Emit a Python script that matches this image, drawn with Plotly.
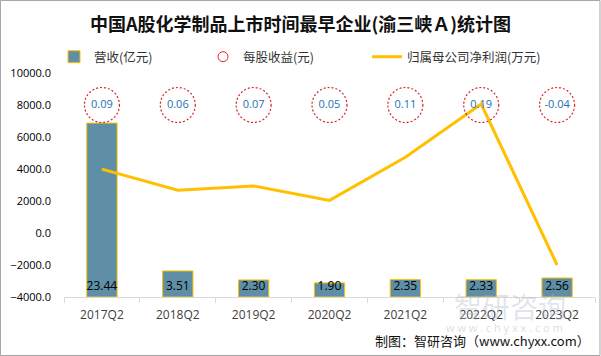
import plotly.graph_objects as go

categories = ["2017Q2", "2018Q2", "2019Q2", "2020Q2", "2021Q2", "2022Q2", "2023Q2"]
revenue = [23.44, 3.51, 2.30, 1.90, 2.35, 2.33, 2.56]          # 营收(亿元)
eps = [0.09, 0.06, 0.07, 0.05, 0.11, 0.19, -0.04]              # 每股收益(元)
net_profit = [3990, 2670, 2940, 2040, 4730, 8060, -2000]       # 归属母公司净利润(万元)
profit_ticks = [-4000, -2000, 0, 2000, 4000, 6000, 8000, 10000]
eps_label_row = 8000

title = "中国A股化学制品上市时间最早企业(渝三峡Ａ)统计图"
FONT = "Open Sans, Noto Sans CJK SC, sans-serif"
CJK = "Noto Sans CJK SC, sans-serif"

fig = go.Figure()

fig.add_trace(go.Bar(
    x=categories, y=revenue, name="营收(亿元)", yaxis="y", legend="legend",
    marker=dict(color="#5E8FA6", line=dict(color="#FFC000", width=1)),
    width=0.4,
    text=[f"{v:.2f}" for v in revenue], textposition="inside",
    insidetextanchor="start", textangle=0, constraintext="none",
    textfont=dict(color="#000000", size=12, family=FONT),
))

fig.add_trace(go.Scatter(
    x=categories, y=net_profit, name="归属母公司净利润(万元)", yaxis="y2",
    legend="legend3", mode="lines",
    line=dict(color="#FFC000", width=3),
))

fig.add_trace(go.Scatter(
    x=categories, y=[eps_label_row] * len(categories), name="每股收益(元)",
    yaxis="y2", legend="legend2", mode="markers+text",
    text=[f"{v:.2f}" for v in eps], textposition="middle center",
    textfont=dict(color="#1F6FB2", size=11, family=FONT),
    marker=dict(symbol="circle-open", size=10, color="#D9262B", line=dict(width=1)),
    selectedpoints=[],
    unselected=dict(marker=dict(opacity=0), textfont=dict(color="#1F6FB2")),
))

shapes = []
for c in categories:
    shapes.append(dict(
        type="circle", xref="x", yref="y2", xsizemode="pixel", ysizemode="pixel",
        xanchor=c, yanchor=eps_label_row, x0=-17.5, x1=17.5, y0=-17.5, y1=17.5,
        line=dict(color="#D9262B", width=1.2, dash="2px,2px"), layer="above",
    ))
# outer frame
shapes.append(dict(type="rect", xref="paper", yref="paper",
                   x0=-0.1196, x1=1.0094, y0=-0.2612, y1=1.3237,
                   line=dict(color="#A6A6A6", width=1)))
fig.update_layout(shapes=shapes)

fig.update_layout(
    width=601, height=356, autosize=False,
    margin=dict(l=64, r=6, t=73, b=59),
    paper_bgcolor="white", plot_bgcolor="white",
    font=dict(family=FONT, color="#333333", size=12),
    title=dict(text=title, x=0.5, xref="container", xanchor="center",
               y=0.93, yref="container", yanchor="middle",
               font=dict(family=CJK, size=18, color="#111111", weight="bold")),
    xaxis=dict(type="category", categoryorder="array", categoryarray=categories,
               range=[-0.5, 6.5], showline=True, linecolor="#D9D9D9", linewidth=1,
               ticks="outside", tickson="boundaries", ticklen=5, tickcolor="#D9D9D9",
               showgrid=False, zeroline=False, ticklabelstandoff=7,
               tickfont=dict(size=12, color="#404040", family=FONT)),
    yaxis=dict(range=[0, 30.19], visible=False, showgrid=False, zeroline=False),
    yaxis2=dict(overlaying="y", side="left", anchor="x", range=[-4000, 10000],
                tickvals=profit_ticks, tickformat=".1f", showgrid=False,
                zeroline=False, showline=False, ticks="",
                ticklabelstandoff=12,
                tickfont=dict(size=11, color="#000000", family=FONT)),
    legend=dict(orientation="h", x=-0.0188, xanchor="left", y=1.071, yanchor="middle",
                font=dict(size=12.5, family=CJK, color="#333333"), bgcolor="rgba(0,0,0,0)"),
    legend2=dict(orientation="h", x=0.2618, xanchor="left", y=1.071, yanchor="middle",
                 font=dict(size=12.5, family=CJK, color="#333333"), bgcolor="rgba(0,0,0,0)"),
    legend3=dict(orientation="h", x=0.5706, xanchor="left", y=1.071, yanchor="middle",
                 font=dict(size=12.5, family=CJK, color="#333333"), bgcolor="rgba(0,0,0,0)"),
    showlegend=True,
)

# watermark
fig.add_annotation(text="智研咨询", xref="paper", yref="paper", x=0.84, y=-0.04,
                   xanchor="center", yanchor="middle",
                   showarrow=False, font=dict(size=28, family=CJK, color="rgba(170,180,195,0.35)"))
fig.add_annotation(text="w w w . c h y x x . c o m", xref="paper", yref="paper", x=0.83, y=-0.138,
                   xanchor="center", yanchor="middle",
                   showarrow=False, font=dict(size=11, family=FONT, color="rgba(170,180,195,0.45)"))
# source
fig.add_annotation(text="制图：智研咨询（www.chyxx.com）", xref="paper", yref="paper",
                   x=0.995, xanchor="right", y=-0.196, yanchor="middle", showarrow=False,
                   font=dict(size=13, family=CJK, color="#111111"))

fig.write_html("out.html", post_script="document.body.style.margin='0';",
               config={"displayModeBar": False})
